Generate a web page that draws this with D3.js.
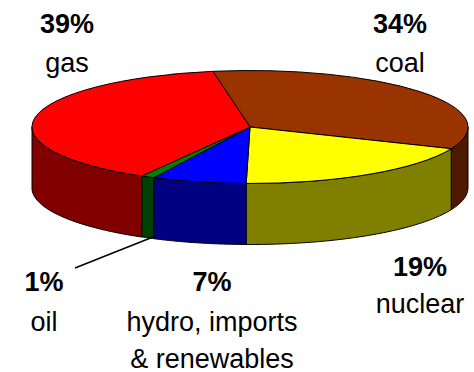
<!DOCTYPE html>
<html>
<head>
<meta charset="utf-8">
<script src="https://cdn.jsdelivr.net/npm/d3@7/dist/d3.min.js"></script>
<style>
html, body { margin: 0; padding: 0; background: #fff; }
svg { display: block; }
text { font-family: "Liberation Sans", Arial, sans-serif; fill: #000; text-anchor: middle; }
.pct { font-size: 27px; font-weight: bold; }
.name { font-size: 27px; }
</style>
</head>
<body>
<svg id="chart" width="474" height="372"></svg>
<script>
// Electricity generation mix, clockwise from the coal slice
const categories = ["coal", "nuclear", "hydro, imports & renewables", "oil", "gas"];
const shares = [34, 19, 7, 1, 39];
const topColors = ["#993300", "#ffff00", "#0000ff", "#008000", "#ff0000"];
const sideColors = ["#4d1a00", "#808000", "#000080", "#004000", "#800000"];

// Each caption is listed as [x, baseline, text]
const percentLabels = [[400, 33, "34%"], [420, 276, "19%"], [212, 291, "7%"], [44, 291, "1%"], [67, 33, "39%"]];
const nameLabels = [
  [400, 72, "coal"], [420, 313, "nuclear"],
  [212, 331, "hydro, imports"], [212, 368, "& renewables"],
  [44, 331, "oil"], [67, 72, "gas"]
];
const leaderLine = [[153, 237], [75, 268]];

const cx = 250, cy = 127, rx = 218, ry = 56.5, depth = 61;
const svg = d3.select("#chart");

const pie = d3.pie().sort(null)
  .startAngle(-9.8 * Math.PI / 180)
  .endAngle((360 - 9.8) * Math.PI / 180);
const slices = pie(shares).map((d, i) => ({ ...d, i }));

// Project an angle (clockwise from 12 o'clock) onto the tilted disc
const px = a => cx + rx * Math.sin(a);
const py = (a, drop = 0) => cy - ry * Math.cos(a) + drop;

// The rim is only visible on the near half of the disc
const nearStart = Math.PI / 2, nearEnd = 3 * Math.PI / 2;
const rimLine = d3.line();
function rimPath(a0, a1) {
  const steps = d3.range(0, 61).map(k => a0 + (a1 - a0) * k / 60);
  const upper = steps.map(a => [px(a), py(a)]);
  const lower = steps.slice().reverse().map(a => [px(a), py(a, depth)]);
  return rimLine(upper.concat(lower)) + "Z";
}

const rims = [];
slices.forEach(s => {
  const a0 = Math.max(s.startAngle, nearStart);
  const a1 = Math.min(s.endAngle, nearEnd);
  if (a1 > a0) rims.push({ i: s.i, a0, a1 });
});

svg.append("g").selectAll("path").data(rims).join("path")
  .attr("d", d => rimPath(d.a0, d.a1))
  .attr("fill", d => sideColors[d.i])
  .attr("stroke", "#000")
  .attr("stroke-width", 1)
  .attr("stroke-linejoin", "round");

// Top face: a circular pie squashed vertically into an ellipse
const arc = d3.arc().innerRadius(0).outerRadius(rx);
svg.append("g")
  .attr("transform", `translate(${cx},${cy}) scale(1,${ry / rx})`)
  .selectAll("path").data(slices).join("path")
  .attr("d", arc)
  .attr("fill", d => topColors[d.i])
  .attr("stroke", "#000")
  .attr("stroke-width", 1)
  .attr("stroke-linejoin", "round")
  .attr("vector-effect", "non-scaling-stroke");

svg.append("path")
  .attr("d", d3.line()(leaderLine))
  .attr("stroke", "#000")
  .attr("stroke-width", 1.5)
  .attr("fill", "none");

svg.append("g").selectAll("text").data(percentLabels).join("text")
  .attr("class", "pct")
  .attr("x", d => d[0]).attr("y", d => d[1]).text(d => d[2]);

svg.append("g").selectAll("text").data(nameLabels).join("text")
  .attr("class", "name")
  .attr("x", d => d[0]).attr("y", d => d[1]).text(d => d[2]);
</script>
</body>
</html>
